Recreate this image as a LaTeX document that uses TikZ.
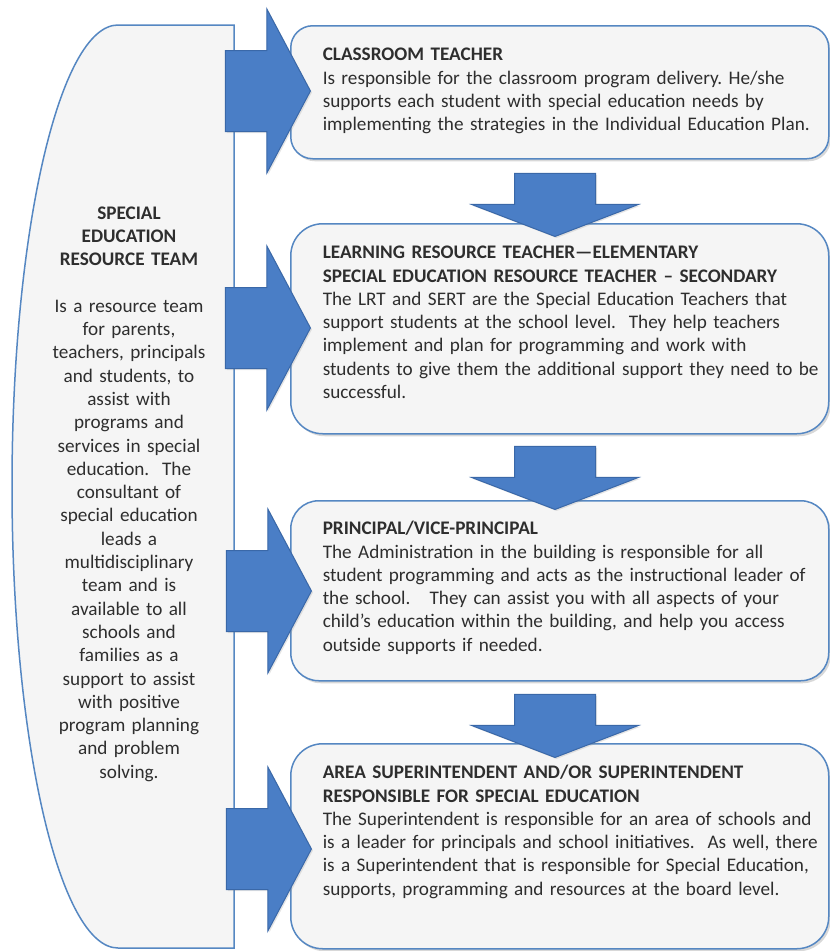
\documentclass[tikz,border=0pt]{standalone}
\usepackage{fontspec}
\setmainfont{Carlito}
\usetikzlibrary{shapes.arrows,shadows}
\definecolor{arrowblue}{HTML}{4A7EC6}
\definecolor{arrowline}{HTML}{3A68A8}
\definecolor{boxline}{HTML}{5587C2}
\definecolor{boxfill}{HTML}{F5F5F5}
\definecolor{inktext}{HTML}{2E2E2E}
\begin{document}
\begin{tikzpicture}[x=1pt,y=-1pt,
  every node/.style={font=\fontsize{19.2}{23.3}\selectfont\frenchspacing,text=inktext},
  infobox/.style={draw=boxline,line width=1.5pt,fill=boxfill,rounded corners=28pt,
    anchor=north west,inner xsep=4pt,inner ysep=0pt,text width=530pt,align=left,
    execute at begin node={\leftskip=28pt},
    drop shadow={shadow xshift=2pt,shadow yshift=-2.5pt,opacity=0.3}},
  rightarrow/.style={single arrow,draw=arrowline,fill=arrowblue,line width=1pt,
    inner xsep=0pt,inner ysep=40pt,minimum width=0pt,minimum height=85pt,
    single arrow head extend=41.5pt,single arrow tip angle=124,anchor=tip,
    drop shadow={shadow xshift=1.5pt,shadow yshift=-1.5pt,opacity=0.2}},
  downarrow/.style={rightarrow,rotate=-90,minimum height=63pt,
    single arrow head extend=43pt,single arrow tip angle=138}]
 \useasboundingbox[fill=white](0,0)rectangle(830,951);
 \draw[draw=boxline,line width=1.5pt,fill=boxfill](234,25)--(118,25)
   arc[start angle=90,end angle=270,x radius=106pt,y radius=461.5pt]--(234,948)--cycle;
 \node[text width=210pt,align=center,anchor=base](team)at(129,219){\textbf{SPECIAL}\\\textbf{EDUCATION}\\\textbf{RESOURCE TEAM}\\[23.3pt]
   Is a resource team\\for parents,\\teachers, principals\\and students, to\\assist with\\programs and\\services in special\\education.~ The\\consultant of\\special education\\leads a\\multidisciplinary\\team and is\\available to all\\schools and\\families as a\\support to assist\\with positive\\program planning\\and problem\\solving.};
 \node[infobox,rounded corners=22pt,text height=35pt,text depth=98pt](teacher)at(290,25){\textbf{CLASSROOM TEACHER}\\
   Is responsible for the classroom program delivery. He/she\\
   supports each student with special education needs by\\
   implementing the strategies in the Individual Education Plan.};
 \node[infobox,rounded corners=32pt,text height=35pt,text depth=175pt](resource)at(290,223){\textbf{LEARNING RESOURCE TEACHER—ELEMENTARY}\\
   \textbf{SPECIAL EDUCATION RESOURCE TEACHER – SECONDARY}\\
   The LRT and SERT are the Special Education Teachers that\\
   support students at the school level.~ They help teachers\\
   implement and plan for programming and work with\\
   students to give them the additional support they need to be\\
   successful.};
 \node[infobox,text height=34pt,text depth=146pt](principal)at(290,500){\textbf{PRINCIPAL/VICE-PRINCIPAL}\\
   The Administration in the building is responsible for all\\
   student programming and acts as the instructional leader of\\
   the school.~~ They can assist you with all aspects of your\\
   child’s education within the building, and help you access\\
   outside supports if needed.};
 \node[infobox,rounded corners=32pt,text height=35pt,text depth=170pt](super)at(290,743){\textbf{AREA SUPERINTENDENT AND/OR SUPERINTENDENT}\\
   \textbf{RESPONSIBLE FOR SPECIAL EDUCATION}\\
   The Superintendent is responsible for an area of schools and\\
   is a leader for principals and school initiatives.~ As well, there\\
   is a Superintendent that is responsible for Special Education,\\
   supports, programming and resources at the board level.};
 \node[rightarrow](toteacher)at(311,91){};
 \node[rightarrow](toresource)at(311,328){};
 \node[rightarrow](toprincipal)at(312,591){};
 \node[rightarrow](tosuper)at(312,849){};
 \node[downarrow](down1)at(555,237){};
 \node[downarrow](down2)at(555,510){};
 \node[downarrow](down3)at(555,758){};
\end{tikzpicture}
\end{document}
